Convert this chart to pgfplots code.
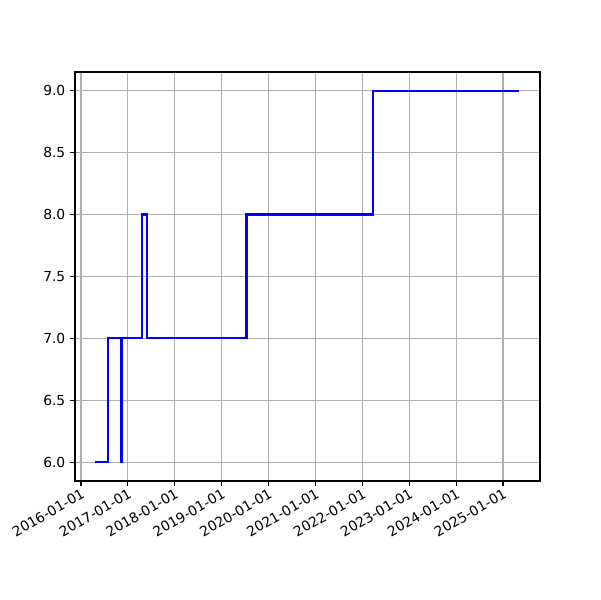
\documentclass[border=0pt]{standalone}
\usepackage{pgfplots}
\pgfplotsset{compat=1.18}
\usepackage{fontspec}
\setmainfont{DejaVu Sans}
\usetikzlibrary{calc}
\definecolor{gridgray}{RGB}{176,176,176}
\begin{document}
\begin{tikzpicture}
\begin{axis}[
  scale only axis,
  width=336pt, height=295.6pt,
  xmin=2015.872, xmax=2025.787,
  ymin=5.85, ymax=9.15,
  xtick={2016,2017,2018,2019,2020,2021,2022,2023,2024,2025},
  xticklabels={2016-01-01,2017-01-01,2018-01-01,2019-01-01,2020-01-01,2021-01-01,2022-01-01,2023-01-01,2024-01-01,2025-01-01},
  ytick={6,6.5,7,7.5,8,8.5,9},
  yticklabel style={font=\fontsize{10}{12}\selectfont, /pgf/number format/fixed, /pgf/number format/fixed zerofill, /pgf/number format/precision=1},
  /pgf/number format/assume math mode=true,
  xticklabel style={rotate=30, anchor=north east, font=\fontsize{10}{12}\selectfont, inner sep=1pt},
  tick align=outside,
  tick pos=left,
  major tick length=3.5pt,
  tick style={black, line width=0.8pt},
  axis line style={black, line width=0.8pt},
  grid=major,
  major grid style={gridgray, line width=0.8pt},
]
\addplot[const plot, color={rgb,255:red,0;green,0;blue,255}, line width=1.5pt] coordinates {
(2016.30,6) (2016.576,7) (2016.852,6) (2016.872,7) (2017.30,8) (2017.41,7) (2019.53,8) (2022.23,9) (2025.35,9)
};
\coordinate (bl) at (rel axis cs:0,0);
\coordinate (tr) at (rel axis cs:1,1);
\end{axis}
\path[use as bounding box] ($(bl)+(-54.2pt,-86pt)$) rectangle ($(tr)+(43.4pt,52pt)$);
\end{tikzpicture}
\end{document}
